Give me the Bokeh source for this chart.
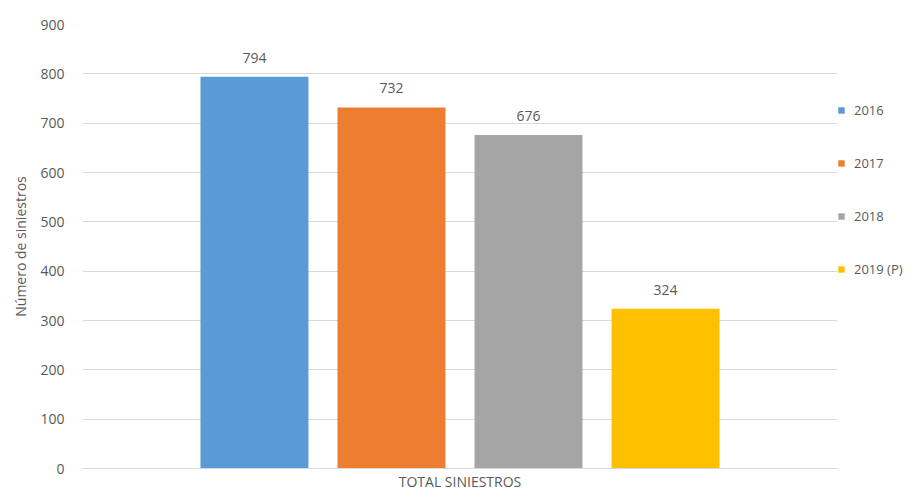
from bokeh.plotting import figure
from bokeh.models import ColumnDataSource, Legend, LegendItem, Range1d, FactorRange, FixedTicker
from bokeh.transform import dodge
from bokeh.core.properties import value
from bokeh.embed import file_html
from bokeh.resources import INLINE

category = ["TOTAL SINIESTROS"]
years = ["2016", "2017", "2018", "2019 (P)"]
values = [794, 732, 676, 324]
colors = ["#5B9BD5", "#ED7D31", "#A5A5A5", "#FFC000"]
y_ticks = [0, 100, 200, 300, 400, 500, 600, 700, 800, 900]

FONT = "Open Sans"
TXT = "#595959"

p = figure(x_range=FactorRange(factors=category), y_range=Range1d(0, 900),
           frame_width=755, frame_height=444, output_backend="svg", toolbar_location=None,
           min_border_left=82, min_border_top=24, min_border_bottom=20, min_border_right=0)
p.outline_line_color = None
p.background_fill_color = "white"
p.border_fill_color = "white"

items = []
for i, (yr, v, c) in enumerate(zip(years, values, colors)):
    src = ColumnDataSource(dict(x=[category[0]], top=[v], label=[str(v)]))
    off = (i - 1.5) * 0.1815
    r = p.vbar(x=dodge("x", off, range=p.x_range), top="top", width=0.143,
               source=src, fill_color=c, line_color=None)
    p.text(x=dodge("x", off, range=p.x_range), y="top", text="label", source=src,
           text_align="center", text_baseline="bottom", y_offset=-14,
           text_font=value(FONT), text_font_size="14px", text_color=TXT)
    items.append(LegendItem(label=yr, renderers=[r]))

legend = Legend(items=items, location="top_left", glyph_width=8, glyph_height=8,
                label_height=20, spacing=33, padding=3, margin=0,
                title=" ", title_text_font_size="14px", title_standoff=60,
                border_line_color=None, background_fill_alpha=0,
                label_text_font=FONT, label_text_font_size="13px",
                label_text_color=TXT, label_standoff=9)
p.add_layout(legend, "right")

p.yaxis.ticker = FixedTicker(ticks=y_ticks)
p.yaxis.axis_line_color = None
p.yaxis.major_tick_line_color = None
p.yaxis.minor_tick_line_color = None
p.yaxis.major_tick_out = 0
p.yaxis.major_label_standoff = 18
p.yaxis.major_label_text_font = FONT
p.yaxis.major_label_text_font_size = "14px"
p.yaxis.major_label_text_color = TXT
p.yaxis.axis_label = "Número de siniestros"
p.yaxis.axis_label_text_font = FONT
p.yaxis.axis_label_text_font_size = "14px"
p.yaxis.axis_label_text_font_style = "normal"
p.yaxis.axis_label_text_color = TXT
p.yaxis.axis_label_standoff = 7

p.xaxis.axis_line_color = "#D9D9D9"
p.xaxis.major_tick_line_color = None
p.xaxis.minor_tick_line_color = None
p.xaxis.major_tick_out = 0
p.xaxis.major_label_standoff = 3
p.xaxis.major_label_text_font = FONT
p.xaxis.major_label_text_font_size = "14px"
p.xaxis.major_label_text_color = TXT

p.xgrid.grid_line_color = None
p.ygrid.grid_line_color = "#D9D9D9"
p.ygrid.grid_line_width = 1

open("out.html", "w").write(file_html(p, INLINE))
